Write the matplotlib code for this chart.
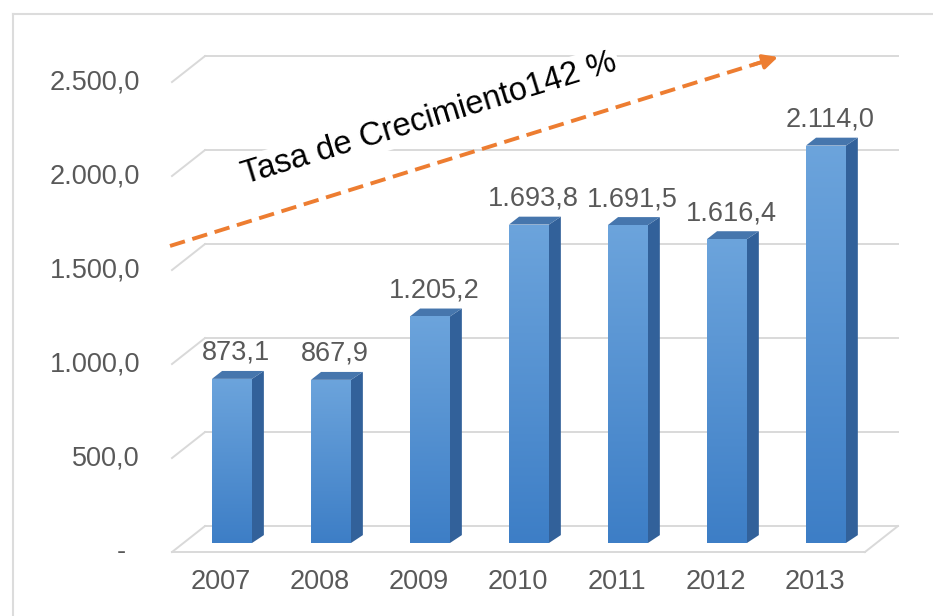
import numpy as np
import matplotlib
matplotlib.use('Agg')
import matplotlib.pyplot as plt
from matplotlib.patches import Polygon
from matplotlib.lines import Line2D
from matplotlib.colors import LinearSegmentedColormap

plt.rcParams['font.family'] = ['Liberation Sans', 'DejaVu Sans']

anios = ['2007', '2008', '2009', '2010', '2011', '2012', '2013']
valores = [873.1, 867.9, 1205.2, 1693.8, 1691.5, 1616.4, 2114.0]
niveles = [0, 500, 1000, 1500, 2000, 2500]
etiquetas_y = ['-', '500,0', '1.000,0', '1.500,0', '2.000,0', '2.500,0']
titulo_flecha = 'Tasa de Crecimiento142 %'


def formato_es(v):
    return f'{v:,.1f}'.replace(',', 'X').replace('.', ',').replace('X', '.')


fig = plt.figure(figsize=(9.33, 6.16), dpi=100)
ax = fig.add_axes([157.75 / 933, 16.6 / 616, 762.25 / 933, 564 / 616])
ax.set_xlim(-0.75, 6.95)
ax.set_ylim(-300, 2700)
ax.axis('off')

# marco exterior (solo borde izquierdo y superior visibles)
gris_marco = '#dcdcdc'
fig.add_artist(Line2D([13 / 933, 13 / 933], [0, 602 / 616], color=gris_marco, lw=1.5))
fig.add_artist(Line2D([13 / 933, 1], [602 / 616, 602 / 616], color=gris_marco, lw=1.5))

# geometria pseudo 3D
ancho = 0.404
prof_x, prof_y = 0.12, 42        # fondo de cada barra
fondo_x0, fondo_x1, fondo_y = -0.273, 6.727, 90     # pared trasera
frente_x0, frente_x1, frente_y = -0.606, 6.394, -48  # borde delantero del suelo
gris_grid = '#d9d9d9'
gris_texto = '#595959'
tam = 19.5

for v in niveles:
    ax.plot([fondo_x0, fondo_x1], [v + fondo_y, v + fondo_y], color=gris_grid, lw=1.4, zorder=1)
    ax.plot([frente_x0, fondo_x0], [v + frente_y, v + fondo_y], color=gris_grid, lw=1.4, zorder=1)
ax.plot([frente_x0, frente_x1], [frente_y, frente_y], color=gris_grid, lw=1.4, zorder=1)
ax.plot([frente_x1, fondo_x1], [frente_y, fondo_y], color=gris_grid, lw=1.4, zorder=1)

for v, txt in zip(niveles, etiquetas_y):
    xx = -0.929 if txt != '-' else -1.07
    ax.text(xx, v + frente_y, txt, ha='right', va='center', fontsize=tam, color=gris_texto)

# barras
x = np.arange(len(anios))
barras = ax.bar(x, valores, width=ancho, color='#5B9BD5', zorder=2)
cmap_frente = LinearSegmentedColormap.from_list('frente', ['#3D7EC6', '#6CA4DC'])
grad = np.linspace(0, 1, 256).reshape(-1, 1)
for b, v in zip(barras, valores):
    x0 = b.get_x()
    x1 = x0 + b.get_width()
    im = ax.imshow(grad, extent=[x0, x1, 0, v], origin='lower', aspect='auto',
                   cmap=cmap_frente, zorder=2.1)
    im.set_clip_path(b)
    lado = Polygon([(x1, 0), (x1 + prof_x, prof_y), (x1 + prof_x, v + prof_y), (x1, v)],
                   closed=True, facecolor='#32619A', edgecolor='none', zorder=2)
    tapa = Polygon([(x0, v), (x0 + prof_x * 0.85, v + prof_y), (x1 + prof_x, v + prof_y), (x1, v)],
                   closed=True, facecolor='#4676AD', edgecolor='none', zorder=2)
    ax.add_patch(lado)
    ax.add_patch(tapa)
    ax.text(x0 + ancho / 2 + 0.04, v + 138, formato_es(v), ha='center', va='center',
            fontsize=tam, color=gris_texto, zorder=5)

ax.set_xlim(-0.75, 6.95)
ax.set_ylim(-300, 2700)

for xi, a in zip(x, anios):
    ax.text(xi - 0.11, -210, a, ha='center', va='center', fontsize=tam, color=gris_texto)

# flecha de tendencia
naranja = '#ED7D31'
ini = (-0.626, 1580)
fin = (5.515, 2585)
pend = (fin[1] - ini[1]) / (fin[0] - ini[0])
ax.plot([ini[0], fin[0] - 0.15], [ini[1], fin[1] - 0.15 * pend],
        color=naranja, lw=2.8, dashes=(4, 2), zorder=4)
ax.annotate('', xy=fin, xytext=(fin[0] - 0.25, fin[1] - 0.25 * pend),
            arrowprops=dict(arrowstyle='-|>', color=naranja, lw=2.6, mutation_scale=22,
                            shrinkA=0, shrinkB=0), zorder=4)

ax.text(1.99, 2255, titulo_flecha, rotation=17, rotation_mode='anchor', ha='center', va='center',
        fontsize=23.5, color='black', zorder=3,
        bbox=dict(facecolor='white', edgecolor='none', pad=2))

fig.savefig('out.png', dpi=100)
